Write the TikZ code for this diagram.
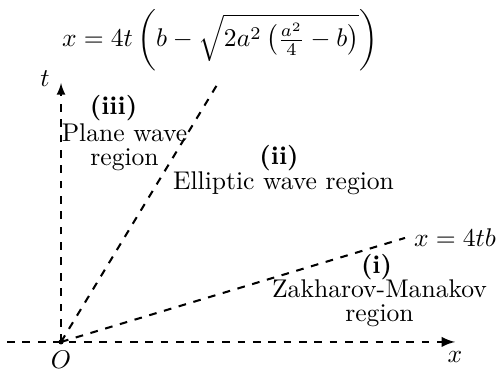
\documentclass[tikz,border=0pt]{standalone}
\usetikzlibrary{arrows}

\begin{document}
\begin{tikzpicture}[
  axis/.style={dashed, ->, >=latex},
  ray/.style={dashed, thick},
  tag/.style={font=\bfseries, anchor=base},
  region/.style={align=center, font=\fontsize{10pt}{9.3pt}\selectfont}
]
\useasboundingbox (-0.838,-0.44) rectangle (6.0,4.695);

% Origin and end points
\coordinate (O) at (0,0);
\coordinate (xstart) at (-0.74,0);
\coordinate (xend) at (5.41,0);
\coordinate (tend) at (0,3.556);
\coordinate (steep) at (2.183,3.597);
\coordinate (shallow) at (4.723,1.428);

% Axes
\draw[axis, thick] (xstart) -- (xend);
\draw[axis, semithick] (O) -- (tend);
\fill (O) circle (1pt);

% Boundary rays
\draw[ray] (O) -- (steep);
\draw[ray] (O) -- (shallow);

% Axis labels
\node[below] (olabel) at (O) {$O$};
\node[below] (xlabel) at (xend) {$x$};
\node (tlabel) at (-0.22,3.62) {$t$};

% Ray labels
\node[right] (zmbound) at (shallow) {$x=4tb$};
\node[above] (pwbound) at (steep) {$x=4t\left(b-\sqrt{2a^2\left(\frac{a^2}{4}-b\right)}\right)$};

% Regions
\node[tag] (plantag) at (0.721,3.117) {(iii)};
\node[region] (plane) at (0.872,2.677) {Plane wave\\region};
\node[tag] (elltag) at (2.993,2.430) {(ii)};
\node[region] (elliptic) at (3.055,2.175) {Elliptic wave region};
\node[tag] (zmtag) at (4.332,0.943) {(i)};
\node[region] (zm) at (4.373,0.527) {Zakharov-Manakov\\region};

\end{tikzpicture}
\end{document}
